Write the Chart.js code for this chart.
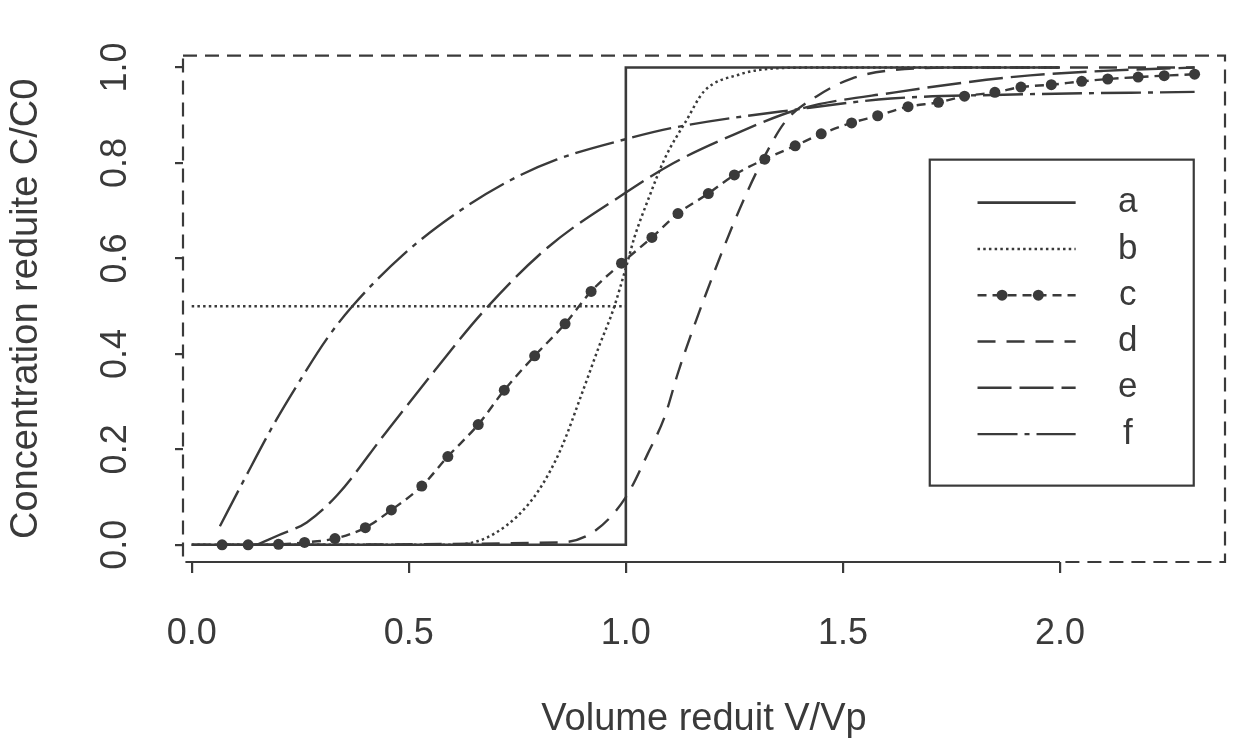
<!DOCTYPE html>
<html>
<head>
<meta charset="utf-8">
<script src="https://cdn.jsdelivr.net/npm/chart.js@4.4.1/dist/chart.umd.min.js"></script>
<style>
  html,body{margin:0;padding:0;background:#fff;}
  #wrap{width:1238px;height:743px;}
</style>
</head>
<body>
<div id="wrap"><canvas id="chart" width="1238" height="743"></canvas></div>
<script>
// --- values (x = V/Vp, y = C/C0) ---
const curveNames = ['a','b','c','d','e','f'];

const aX = [0, 1, 1, 2];
const aY = [0, 0, 1, 1];

const bX = [0, 0.60, 0.66, 0.70, 0.75, 0.80, 0.85, 0.90, 0.94, 0.97, 1.00, 1.02, 1.05, 1.09, 1.14, 1.18, 1.26, 1.34, 1.45, 2.0];
const bY = [0, 0, 0.008, 0.025, 0.06, 0.115, 0.20, 0.32, 0.42, 0.49, 0.58, 0.645, 0.72, 0.81, 0.89, 0.95, 0.985, 0.998, 1.0, 1.0];

// dotted reference at C/C0 = 0.5
const refX = [0, 1];
const refY = [0.5, 0.5];

const cX = [0.07, 0.13, 0.20, 0.26, 0.33, 0.40, 0.46, 0.53, 0.59, 0.66, 0.72, 0.79, 0.86, 0.92, 0.99, 1.06, 1.12, 1.19,
            1.25, 1.32, 1.39, 1.45, 1.52, 1.58, 1.65, 1.72, 1.78, 1.85, 1.91, 1.98, 2.05, 2.11, 2.18, 2.24, 2.31];
const cY = [0, 0, 0.001, 0.005, 0.013, 0.036, 0.073, 0.123, 0.185, 0.252, 0.324, 0.396, 0.463, 0.531, 0.590, 0.644, 0.694, 0.736,
            0.775, 0.808, 0.836, 0.861, 0.884, 0.899, 0.918, 0.927, 0.940, 0.948, 0.959, 0.964, 0.971, 0.976, 0.980, 0.983, 0.986];

const dX = [0, 0.85, 0.93, 1.00, 1.05, 1.09, 1.12, 1.15, 1.22, 1.27, 1.32, 1.37, 1.44, 1.52, 1.62, 1.80, 2.31];
const dY = [0, 0.005, 0.03, 0.10, 0.19, 0.27, 0.36, 0.44, 0.61, 0.72, 0.815, 0.89, 0.94, 0.977, 0.995, 1.0, 1.0];

const eX = [0.15, 0.20, 0.265, 0.336, 0.447, 0.559, 0.67, 0.82, 1.00, 1.11, 1.25, 1.40, 1.62, 1.90, 2.10, 2.31];
const eY = [0, 0.02, 0.047, 0.105, 0.235, 0.364, 0.487, 0.623, 0.738, 0.80, 0.86, 0.913, 0.948, 0.981, 0.993, 1.0];

const fX = [0.065, 0.12, 0.19, 0.25, 0.31, 0.37, 0.49, 0.61, 0.73, 0.84, 1.00, 1.11, 1.40, 1.61, 1.87, 2.31];
const fY = [0.039, 0.135, 0.254, 0.345, 0.43, 0.50, 0.61, 0.695, 0.762, 0.807, 0.85, 0.874, 0.913, 0.935, 0.943, 0.949];

const xTicks = [0, 0.5, 1.0, 1.5, 2.0];
const yTicks = [0, 0.2, 0.4, 0.6, 0.8, 1.0];

// --- look ---
const ink = '#3a3a3a';
const FONT = '"Liberation Sans", Arial, Helvetica, sans-serif';
Chart.defaults.font.family = FONT;
Chart.defaults.color = ink;

const pts = (xs, ys) => xs.map((x, i) => ({x, y: ys[i]}));
function line(label, xs, ys, dash, extra){
  return Object.assign({
    label, data: pts(xs, ys),
    borderColor: ink, borderWidth: 2.4, borderDash: dash,
    pointRadius: 0, fill: false, cubicInterpolationMode: 'monotone'
  }, extra || {});
}

const datasets = [
  line('a', aX, aY, [], {cubicInterpolationMode: 'default', tension: 0, borderWidth: 2.6}),
  line('b', bX, bY, [2.5, 3.2], {borderWidth: 2.5}),
  line('', refX, refY, [2.5, 3.2], {borderWidth: 2.5}),
  line('c', cX, cY, [9, 6], {pointRadius: 5.5, pointBackgroundColor: ink, pointBorderWidth: 0}),
  line('d', dX, dY, [18, 11]),
  line('e', eX, eY, [34, 8]),
  line('f', fX, fY, [40, 7, 5, 7])
];

// dashed frame + solid x axis segment (R style)
const framePlugin = {
  id: 'frame',
  beforeDatasetsDraw(chart){
    const {ctx, chartArea: ca, scales: {x}} = chart;
    ctx.save();
    ctx.strokeStyle = ink;
    ctx.lineWidth = 2.2;
    ctx.setLineDash([14, 8]);
    ctx.strokeRect(ca.left, ca.top, ca.right - ca.left, ca.bottom - ca.top);
    ctx.setLineDash([]);
    ctx.beginPath();
    ctx.moveTo(x.getPixelForValue(xTicks[0]), ca.bottom);
    ctx.lineTo(x.getPixelForValue(xTicks[xTicks.length - 1]), ca.bottom);
    ctx.stroke();
    ctx.restore();
  }
};

// boxed key placed in data coordinates, like legend(x, y) in R
const keyPlugin = {
  id: 'key',
  afterDatasetsDraw(chart){
    const {ctx, scales: {x, y}} = chart;
    const L = x.getPixelForValue(1.70), R = x.getPixelForValue(2.308);
    const T = y.getPixelForValue(0.807), B = y.getPixelForValue(0.124);
    ctx.save();
    ctx.fillStyle = '#fff';
    ctx.fillRect(L, T, R - L, B - T);
    ctx.strokeStyle = ink;
    ctx.lineWidth = 2.2;
    ctx.strokeRect(L, T, R - L, B - T);
    const x0 = x.getPixelForValue(1.81), x1 = x.getPixelForValue(2.036), xt = x.getPixelForValue(2.156);
    const shown = chart.data.datasets.filter(d => d.label);
    shown.forEach((ds, i) => {
      const yy = y.getPixelForValue(0.717 - i * 0.097);
      ctx.strokeStyle = ds.borderColor;
      ctx.lineWidth = ds.borderWidth;
      ctx.setLineDash(ds.borderDash);
      ctx.beginPath(); ctx.moveTo(x0, yy); ctx.lineTo(x1, yy); ctx.stroke();
      ctx.setLineDash([]);
      if (ds.pointRadius) {
        ctx.fillStyle = ds.pointBackgroundColor;
        [0.25, 0.62].forEach(t => {
          ctx.beginPath(); ctx.arc(x0 + (x1 - x0) * t, yy, ds.pointRadius, 0, Math.PI * 2); ctx.fill();
        });
      }
      ctx.fillStyle = ink;
      ctx.font = '35px ' + FONT;
      ctx.textAlign = 'center';
      ctx.textBaseline = 'middle';
      ctx.fillText(ds.label, xt, yy);
    });
    ctx.restore();
  }
};

new Chart(document.getElementById('chart'), {
  type: 'line',
  data: { datasets },
  plugins: [framePlugin, keyPlugin],
  options: {
    responsive: false,
    animation: false,
    devicePixelRatio: 1,
    layout: { padding: { top: 26, right: 13, left: 0, bottom: 0 } },
    plugins: { legend: { display: false }, tooltip: { enabled: false } },
    scales: {
      x: {
        type: 'linear', min: -0.02, max: 2.38,
        afterFit: s => { s.height = 181; },
        afterBuildTicks: s => { s.ticks = xTicks.map(v => ({value: v})); },
        border: { display: false },
        grid: { drawOnChartArea: false, drawTicks: true, tickLength: 11, lineWidth: 2.2, color: ink },
        ticks: { padding: 39, font: { size: 36 }, color: ink, autoSkip: false, maxRotation: 0,
                 callback: v => v.toFixed(1) },
        title: { display: true, text: 'Volume reduit V/Vp', color: ink,
                 font: { size: 38, lineHeight: 1 }, padding: { top: 0, bottom: 4 } }
      },
      y: {
        type: 'linear', min: -0.036, max: 1.025,
        afterFit: s => { s.width = 183; },
        afterBuildTicks: s => { s.ticks = yTicks.map(v => ({value: v})); },
        border: { display: false },
        grid: { drawOnChartArea: false, drawTicks: true, tickLength: 8, lineWidth: 2.2, color: ink },
        ticks: { padding: 34, font: { size: 36 }, color: ink, autoSkip: false,
                 minRotation: 90, maxRotation: 90, crossAlign: 'center',
                 callback: v => v.toFixed(1) },
        title: { display: true, text: 'Concentration reduite C/C0', color: ink,
                 font: { size: 38, lineHeight: 1 }, padding: { top: 8, bottom: 0 } }
      }
    }
  }
});
</script>
</body>
</html>
